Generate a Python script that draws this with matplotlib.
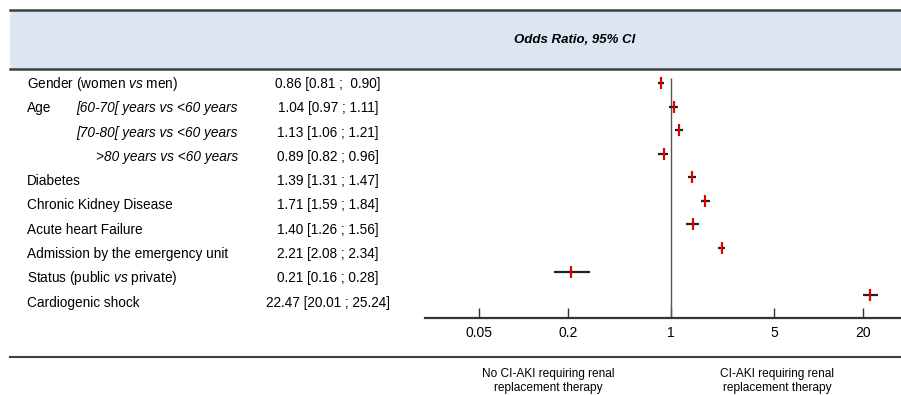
import matplotlib.pyplot as plt
from matplotlib.lines import Line2D
from matplotlib.patches import Rectangle

plt.rcParams['font.family'] = ['Liberation Sans', 'DejaVu Sans']
plt.rcParams['mathtext.fontset'] = 'custom'
plt.rcParams['mathtext.rm'] = 'Liberation Sans'
plt.rcParams['mathtext.it'] = 'Liberation Sans:italic'

# Données
variables = ['Gender (women $\\mathit{vs}$ men)', 'Age', '', '', 'Diabetes',
             'Chronic Kidney Disease', 'Acute heart Failure',
             'Admission by the emergency unit', 'Status (public $\\mathit{vs}$ private)',
             'Cardiogenic shock']
sous_labels = ['', '[60-70[ years vs <60 years', '[70-80[ years vs <60 years',
               '>80 years vs <60 years', '', '', '', '', '', '']
odds = [0.86, 1.04, 1.13, 0.89, 1.39, 1.71, 1.40, 2.21, 0.21, 22.47]
ci_bas = [0.81, 0.97, 1.06, 0.82, 1.31, 1.59, 1.26, 2.08, 0.16, 20.01]
ci_haut = [0.90, 1.11, 1.21, 0.96, 1.47, 1.84, 1.56, 2.34, 0.28, 25.24]
textes_or = ['0.86 [0.81 ;  0.90]', '1.04 [0.97 ; 1.11]', '1.13 [1.06 ; 1.21]',
             '0.89 [0.82 ; 0.96]', '1.39 [1.31 ; 1.47]', '1.71 [1.59 ; 1.84]',
             '1.40 [1.26 ; 1.56]', '2.21 [2.08 ; 2.34]', '0.21 [0.16 ; 0.28]',
             '22.47 [20.01 ; 25.24]']
ticks = [0.05, 0.2, 1, 5, 20]
tick_labels = ['0.05', '0.2', '1', '5', '20']

W, H = 901, 395
fig = plt.figure(figsize=(W / 100, H / 100), dpi=100)

def fx(px):
    return px / W

def fy(py):
    return 1 - py / H

# Bandeau d'en-tête
fig.patches.append(Rectangle((fx(10), fy(69)), fx(891), fy(10) - fy(69),
                             transform=fig.transFigure, facecolor='#dce6f2',
                             edgecolor='none', zorder=0))
for py in [10, 69]:
    fig.add_artist(Line2D([fx(10), 1], [fy(py), fy(py)], color='#404040', lw=1.8))
fig.add_artist(Line2D([fx(10), 1], [fy(357), fy(357)], color='#404040', lw=1.5))
fig.text(fx(514), fy(40), 'Odds Ratio, 95% CI', fontsize=9.5, style='italic',
         fontweight='bold', va='center', ha='left')

# Tableau de gauche
for i in range(len(odds)):
    y = fy(84 + i * 24.3)
    if variables[i]:
        fig.text(fx(27), y, variables[i], fontsize=9.8, va='center', ha='left')
    if sous_labels[i]:
        fig.text(fx(238), y, sous_labels[i], fontsize=9.8, style='italic',
                 va='center', ha='right')
    fig.text(fx(328), y, textes_or[i], fontsize=9.8, va='center', ha='center')

# Forest plot
ax = fig.add_axes([fx(425), fy(318), 1 - fx(425), fy(70) - fy(318)])
ax.set_xscale('log')
ax.set_xlim(0.0214, 36.4)
ax.set_ylim(9.97, -0.55)

pos = list(range(len(odds)))
ax.hlines(pos, ci_bas, ci_haut, color='#222222', lw=1.6, zorder=3)
ax.plot(odds, pos, linestyle='none', marker='|', markersize=8,
        markeredgewidth=1.6, color='#e00000', zorder=4)
ax.vlines(1, 9.97, -0.21, color='#555555', lw=1.0, zorder=2)

for s in ['top', 'right', 'left']:
    ax.spines[s].set_visible(False)
ax.spines['bottom'].set_color('#333333')
ax.spines['bottom'].set_linewidth(1.6)
ax.set_yticks([])
ax.set_xticks(ticks)
ax.set_xticklabels(tick_labels)
ax.minorticks_off()
ax.tick_params(axis='x', direction='in', length=7, width=1.0, color='#333333',
               labelsize=10, pad=6)

# Légendes sous l'axe
fig.text(fx(548), fy(381), 'No CI-AKI requiring renal\nreplacement therapy',
         fontsize=8.6, ha='center', va='center', linespacing=1.15)
fig.text(fx(777), fy(381), 'CI-AKI requiring renal\nreplacement therapy',
         fontsize=8.6, ha='center', va='center', linespacing=1.15)

plt.savefig('out.png', dpi=100)
